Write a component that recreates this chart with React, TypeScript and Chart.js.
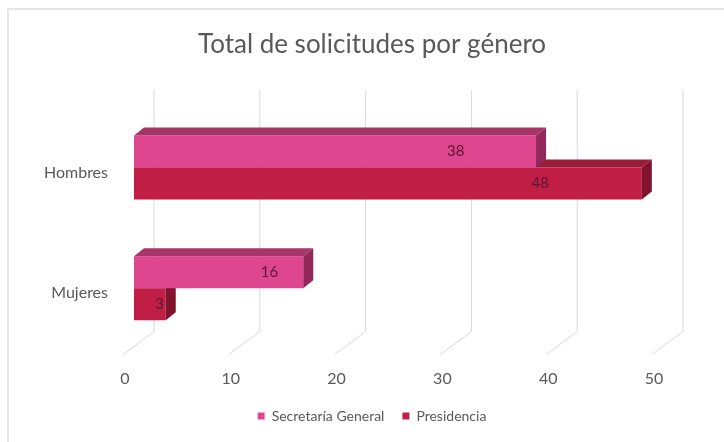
import React, { useEffect, useRef } from "react";
import { Chart, registerables } from "chart.js";

Chart.register(...registerables);

const categories = ["Hombres", "Mujeres"];
const seriesNames = ["Secretaría General", "Presidencia"];
const secretariaGeneral = [38, 16];
const presidencia = [48, 3];
const tickValues = [0, 10, 20, 30, 40, 50];
const titleText = "Total de solicitudes por género";

const frontColors = ["#DE4690", "#C01E44"];
const topColors = ["#A93468", "#9E1C3B"];
const sideColors = ["#93285A", "#80132E"];
const textColor = "#595959";
const gridColor = "#D9D9D9";
const FONT = "Lato, 'Open Sans', sans-serif";

const DX = 10;
const DY = 8;

const threeD = {
  id: "threeD",
  beforeDatasetsDraw(chart: any) {
    const { ctx, chartArea } = chart;
    const xs = chart.scales.x;
    ctx.save();
    ctx.strokeStyle = gridColor;
    ctx.lineWidth = 1;
    tickValues.forEach((v) => {
      const px = xs.getPixelForValue(v);
      ctx.beginPath();
      ctx.moveTo(px + 20, chartArea.top - 17);
      ctx.lineTo(px + 20, chartArea.bottom - 17);
      ctx.lineTo(px - 11, chartArea.bottom + 6);
      ctx.stroke();
    });
    ctx.restore();
  },
  afterDatasetDraw(chart: any, args: any) {
    const { ctx } = chart;
    const i = args.index;
    const meta = chart.getDatasetMeta(i);
    ctx.save();
    meta.data.forEach((bar: any) => {
      const p = bar.getProps(["x", "y", "base", "height"], true);
      const x0 = p.base;
      const x1 = p.x;
      const top = p.y - p.height / 2;
      const bot = p.y + p.height / 2;
      ctx.fillStyle = topColors[i];
      ctx.beginPath();
      ctx.moveTo(x0, top);
      ctx.lineTo(x1, top);
      ctx.lineTo(x1 + DX, top - DY);
      ctx.lineTo(x0 + DX, top - DY);
      ctx.closePath();
      ctx.fill();
      ctx.fillStyle = sideColors[i];
      ctx.beginPath();
      ctx.moveTo(x1, top);
      ctx.lineTo(x1 + DX, top - DY);
      ctx.lineTo(x1 + DX, bot - DY);
      ctx.lineTo(x1, bot);
      ctx.closePath();
      ctx.fill();
    });
    ctx.restore();
  },
  afterDatasetsDraw(chart: any) {
    const { ctx } = chart;
    ctx.save();
    ctx.font = `15px ${FONT}`;
    ctx.fillStyle = "#5A1834";
    ctx.textAlign = "center";
    ctx.textBaseline = "middle";
    chart.data.datasets.forEach((ds: any, i: number) => {
      const meta = chart.getDatasetMeta(i);
      meta.data.forEach((bar: any, j: number) => {
        const p = bar.getProps(["x", "y", "base"], true);
        const lx = p.base + 0.8 * (p.x - p.base);
        ctx.fillText(String(ds.data[j]), lx, p.y);
      });
    });
    ctx.restore();
  },
};

export default function App() {
  const ref = useRef<HTMLCanvasElement | null>(null);
  useEffect(() => {
    if (!ref.current) return;
    const chart = new Chart(ref.current, {
      type: "bar",
      data: {
        labels: categories,
        datasets: [
          {
            label: seriesNames[0],
            data: secretariaGeneral,
            backgroundColor: frontColors[0],
            borderWidth: 0,
          },
          {
            label: seriesNames[1],
            data: presidencia,
            backgroundColor: frontColors[1],
            borderWidth: 0,
          },
        ],
      },
      options: {
        indexAxis: "y",
        animation: false,
        responsive: false,
        maintainAspectRatio: false,
        datasets: { bar: { categoryPercentage: 0.53, barPercentage: 1 } },
        layout: { padding: { left: 20, right: 0, top: 0, bottom: 9 } },
        scales: {
          x: {
            min: 0,
            max: 50,
            afterBuildTicks: (scale: any) => {
              scale.ticks = tickValues.map((v) => ({ value: v }));
            },
            afterFit: (scale: any) => {
              scale.height = 42.5;
            },
            grid: { display: false, drawTicks: false },
            border: { display: false },
            ticks: {
              color: textColor,
              font: { family: FONT, size: 16 },
              padding: 20.5,
              labelOffset: -9,
            },
          },
          y: {
            afterFit: (scale: any) => {
              scale.width = 114;
            },
            grid: { display: false, drawTicks: false },
            border: { display: false },
            ticks: {
              color: textColor,
              font: { family: FONT, size: 16 },
              padding: 26,
              labelOffset: 5,
            },
          },
          yRight: {
            type: "category",
            position: "right",
            afterFit: (scale: any) => {
              scale.width = 61;
            },
            grid: { display: false, drawTicks: false },
            border: { display: false },
            ticks: { display: false },
          },
        },
        plugins: {
          title: {
            display: true,
            text: titleText,
            color: textColor,
            font: { family: FONT, size: 26, weight: "normal" },
            padding: { top: 29, bottom: 47 },
          },
          legend: {
            position: "bottom",
            labels: {
              color: textColor,
              font: { family: FONT, size: 14 },
              boxWidth: 7,
              boxHeight: 7,
              padding: 18,
            },
          },
          tooltip: { enabled: false },
        },
      },
      plugins: [threeD],
    });
    return () => chart.destroy();
  }, []);
  return (
    <div style={{ position: "fixed", left: 0, top: 0, width: 724, height: 442, background: "#fff" }}>
      <div
        style={{
          position: "absolute",
          left: 7,
          top: 8,
          right: 0,
          bottom: 0,
          borderLeft: "2px solid #E6E6E6",
          borderTop: "2px solid #E6E6E6",
        }}
      />
      <canvas ref={ref} width={724} height={442} style={{ position: "absolute", left: 0, top: 0 }} />
    </div>
  );
}
